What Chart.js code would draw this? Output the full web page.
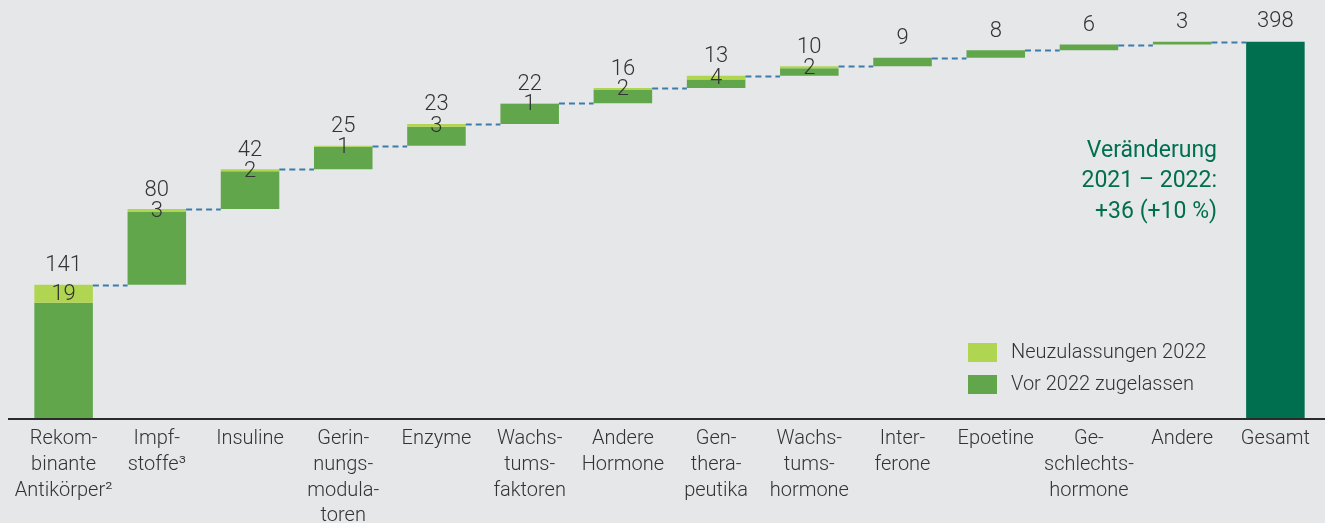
<!DOCTYPE html>
<html lang="de">
<head>
<meta charset="utf-8">
<script src="https://cdn.jsdelivr.net/npm/chart.js@4.4.0/dist/chart.umd.min.js"></script>
<style>
  html, body { margin: 0; padding: 0; background: #e6e7e9; }
  canvas { display: block; }
</style>
</head>
<body>
<canvas id="chart" width="1325" height="523"></canvas>
<script>
// --- data ---
var categories = [
  ['Rekom-', 'binante', 'Antikörper²'],
  ['Impf-', 'stoffe³'],
  ['Insuline'],
  ['Gerin-', 'nungs-', 'modula-', 'toren'],
  ['Enzyme'],
  ['Wachs-', 'tums-', 'faktoren'],
  ['Andere', 'Hormone'],
  ['Gen-', 'thera-', 'peutika'],
  ['Wachs-', 'tums-', 'hormone'],
  ['Inter-', 'ferone'],
  ['Epoetine'],
  ['Ge-', 'schlechts-', 'hormone'],
  ['Andere']
];
var totalCategory = ['Gesamt'];
var values = [141, 80, 42, 25, 23, 22, 16, 13, 10, 9, 8, 6, 3];
var newValues = [19, 3, 2, 1, 3, 1, 2, 4, 2, 0, 0, 0, 0];
var grandTotal = 398;
var changeText = ['Veränderung', '2021 – 2022:', '+36 (+10 %)'];

var colorOld = '#62a64b';
var colorNew = '#b0d550';
var colorTotal = '#006f4f';
var textColor = '#333333';
var font = 'Roboto, "Open Sans", sans-serif';

// waterfall: each bar starts where the previous one ended
var starts = [], ends = [];
var run = 0;
values.forEach(function (v) {
  starts.push(run);
  run += v;
  ends.push(run);
});

var labels = categories.concat([totalCategory]);
var oldBars = values.map(function (v, i) { return [starts[i], ends[i] - newValues[i]]; });
oldBars.push([0, grandTotal]);
var newBars = values.map(function (v, i) { return newValues[i] ? [ends[i] - newValues[i], ends[i]] : null; });
newBars.push(null);
var oldColors = values.map(function () { return colorOld; });
oldColors.push(colorTotal);

var extras = {
  id: 'extras',
  afterDatasetsDraw: function (chart) {
    var ctx = chart.ctx;
    var x = chart.scales.x, y = chart.scales.y;
    var meta = chart.getDatasetMeta(1);
    ctx.save();

    // dashed connectors between bars
    ctx.strokeStyle = '#3b7cab';
    ctx.lineWidth = 2;
    ctx.setLineDash([6, 4]);
    for (var i = 0; i < values.length; i++) {
      var bar = meta.data[i], next = meta.data[i + 1];
      var yy = Math.round(y.getPixelForValue(ends[i])) + 0.5;
      ctx.beginPath();
      ctx.moveTo(bar.x + bar.width / 2, yy);
      ctx.lineTo(next.x - next.width / 2, yy);
      ctx.stroke();
    }
    ctx.setLineDash([]);

    // baseline
    ctx.strokeStyle = '#2b2b2b';
    ctx.lineWidth = 2;
    ctx.beginPath();
    ctx.moveTo(8, y.getPixelForValue(0) + 1);
    ctx.lineTo(chart.width, y.getPixelForValue(0) + 1);
    ctx.stroke();

    // value labels
    ctx.fillStyle = textColor;
    ctx.textAlign = 'center';
    ctx.textBaseline = 'middle';
    ctx.font = '300 22px ' + font;
    for (var j = 0; j < values.length; j++) {
      var cx = x.getPixelForValue(j);
      ctx.fillText(String(values[j]), cx, y.getPixelForValue(ends[j]) - 19);
      if (newValues[j]) {
        ctx.fillText(String(newValues[j]), cx, y.getPixelForValue(ends[j] - newValues[j] / 2) + 1);
      }
    }
    ctx.fillText(String(grandTotal), x.getPixelForValue(values.length), y.getPixelForValue(grandTotal) - 20);

    // change annotation
    ctx.fillStyle = colorTotal;
    ctx.textAlign = 'right';
    ctx.font = '23px ' + font;
    changeText.forEach(function (t, k) {
      ctx.fillText(t, 1217, 151 + k * 30.5);
    });

    // legend
    var items = [chart.data.datasets[0], chart.data.datasets[1]];
    ctx.textAlign = 'left';
    ctx.font = '300 20px ' + font;
    items.forEach(function (ds, k) {
      var top = 343 + k * 32;
      ctx.fillStyle = k === 0 ? colorNew : colorOld;
      ctx.fillRect(968, top, 29, 19);
      ctx.fillStyle = textColor;
      ctx.fillText(ds.label, 1011, top + 10);
    });

    ctx.restore();
  }
};

new Chart(document.getElementById('chart').getContext('2d'), {
  type: 'bar',
  data: {
    labels: labels,
    datasets: [{
      label: 'Neuzulassungen 2022',
      data: newBars,
      backgroundColor: colorNew,
      grouped: false,
      barPercentage: 0.628,
      categoryPercentage: 1
    }, {
      label: 'Vor 2022 zugelassen',
      data: oldBars,
      backgroundColor: oldColors,
      grouped: false,
      barPercentage: 0.628,
      categoryPercentage: 1
    }]
  },
  options: {
    responsive: false,
    animation: false,
    devicePixelRatio: 1,
    layout: { padding: { left: 17, right: 3, top: 2, bottom: 0 } },
    plugins: {
      legend: { display: false },
      tooltip: { enabled: false }
    },
    scales: {
      x: {
        grid: { display: false, drawTicks: false },
        border: { display: false },
        ticks: {
          color: textColor,
          font: { family: font, size: 20, weight: '300', lineHeight: 1.29 },
          padding: 8,
          maxRotation: 0,
          autoSkip: false
        },
        afterFit: function (s) { s.height = 105; }
      },
      y: {
        display: false,
        min: 0,
        max: 440
      }
    }
  },
  plugins: [extras]
});
</script>
</body>
</html>
